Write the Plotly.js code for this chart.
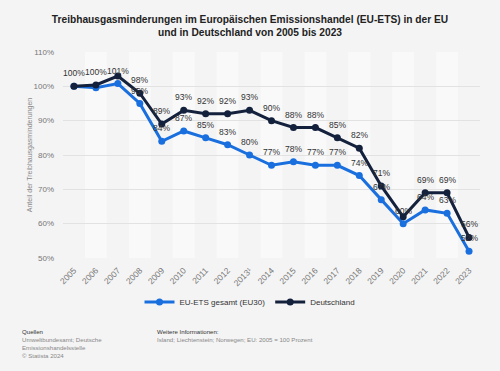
<!DOCTYPE html>
<html><head><meta charset="utf-8">
<script src="https://cdn.plot.ly/plotly-3.0.1.min.js"></script>
<style>html,body{margin:0;padding:0;background:#f4f4f4;}#chart{width:500px;height:371px;}</style>
</head><body><div id="chart"></div>
<script>
const years = ["2005","2006","2007","2008","2009","2010","2011","2012","2013","2014","2015","2016","2017","2018","2019","2020","2021","2022","2023"];
const tickLabels = ["2005","2006","2007","2008","2009","2010","2011","2012","2013¹","2014","2015","2016","2017","2018","2019","2020","2021","2022","2023"];
const euValues = [100,99.6,100.8,95,84,87,85,83,80,77,78,77,77,74,67,60,64,63,52];
const deValues = [100,100.4,103,98,89,93,92,92,93,90,88,88,85,82,71,62,69,69,56];
// labels hidden where they collide in the reference
const euLabelShown = [false,false,true,true,true,true,true,true,true,true,true,true,true,true,true,true,true,true,true];
const deLabelShown = [true,true,false,true,true,true,true,true,true,true,true,true,true,true,true,false,true,true,true];
const yTicks = [50,60,70,80,90,100,110];

const W=500,H=371,L=63,R=20,T=52,B=113;
const pw=W-L-R, ph=H-T-B;
const px=x=>(x-L)/pw, py=y=>(H-B-y)/ph;

const shapes = [];
years.forEach((y,i)=>{ if(i%2===1) shapes.push({type:'rect',xref:'x',yref:'paper',x0:i-0.5,x1:i+0.5,y0:0,y1:1,fillcolor:'#f9f9f9',line:{width:0},layer:'below'}); });

const fmt=v=>Math.round(v)+'%';
const traces=[
 {name:'EU-ETS gesamt (EU30)',x:years,y:euValues,type:'scatter',mode:'lines+markers',
  line:{color:'#1a6fdf',width:3},marker:{color:'#1a6fdf',size:7},hoverinfo:'skip',cliponaxis:false},
 {name:'Deutschland',x:years,y:deValues,type:'scatter',mode:'lines+markers',
  line:{color:'#14213d',width:3},marker:{color:'#14213d',size:7},hoverinfo:'skip',cliponaxis:false}
];

const ann=[];
const addLabels=(vals,shown)=>vals.forEach((v,i)=>{ if(shown[i]) ann.push({xref:'x',yref:'y',x:i,y:v,yshift:13,
  xanchor:'center',yanchor:'middle',showarrow:false,text:fmt(v),font:{family:'Liberation Sans, Arial',size:8.5,color:'#333'}}); });
addLabels(euValues,euLabelShown);
addLabels(deValues,deLabelShown);

const foot=(x,y,t,c)=>ann.push({xref:'paper',yref:'paper',x:px(x),y:py(y),xanchor:'left',yanchor:'middle',showarrow:false,
  text:t,font:{family:'Liberation Sans, Arial',size:6.1,color:c}});
foot(20,331,'Quellen','#333');
foot(20,339,'Umweltbundesamt; Deutsche','#888');
foot(20,347,'Emissionshandelsstelle','#888');
foot(20,355,'© Statista 2024','#888');
foot(155,331,'Weitere Informationen:','#333');
foot(155,339,'Island; Liechtenstein; Norwegen; EU: 2005 = 100 Prozent','#888');

const layout={
 width:W,height:H,margin:{l:L,r:R,t:T,b:B},
 paper_bgcolor:'#f4f4f4',plot_bgcolor:'#f4f4f4',
 font:{family:'Liberation Sans, Arial',color:'#666'},
 title:{text:'<b>Treibhausgasminderungen im Europäischen Emissionshandel (EU-ETS) in der EU<br>und in Deutschland von 2005 bis 2023</b>',
   x:0.5,xref:'container',xanchor:'center',y:1-23/H,yref:'container',yanchor:'middle',
   font:{family:'Liberation Sans, Arial',size:10.2,color:'#222'}},
 xaxis:{type:'category',range:[-0.5,years.length-0.5],tickvals:years,ticktext:tickLabels,tickangle:-45,
   tickfont:{size:8.5,color:'#777'},showgrid:false,zeroline:false,showline:false,ticks:'',ticklabelstandoff:5},
 yaxis:{range:[50,110],tickvals:yTicks,ticktext:yTicks.map(v=>v+'%'),tickfont:{size:8,color:'#777'},
   gridcolor:'#e2e2e2',gridwidth:1,zeroline:false,showline:false,ticks:'',ticklabelstandoff:8,
   title:{text:'Anteil der Treibhausgasminderungen',font:{size:7,color:'#888'},standoff:0}},
 legend:{orientation:'h',x:0.5,xref:'container',xanchor:'center',y:1-302/H,yref:'container',yanchor:'middle',
   font:{size:8,color:'#333'},bgcolor:'rgba(0,0,0,0)'},
 shapes:shapes,annotations:ann,showlegend:true
};
Plotly.newPlot('chart',traces,layout,{staticPlot:true,displayModeBar:false});
</script></body></html>
